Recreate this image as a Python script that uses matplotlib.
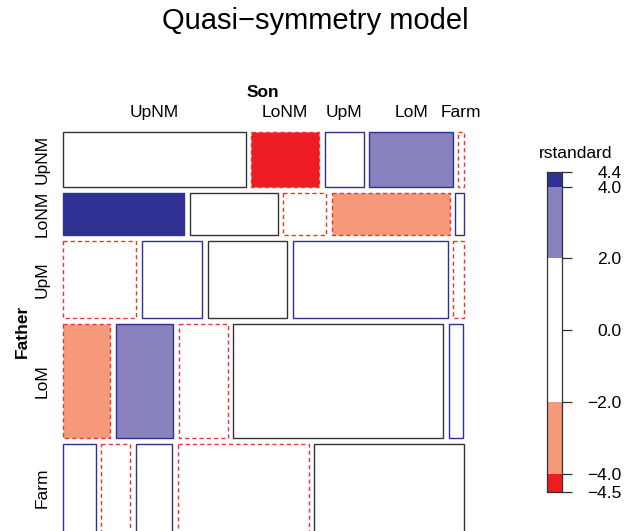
import numpy as np
import matplotlib.pyplot as plt
from matplotlib.patches import Rectangle
from matplotlib.transforms import blended_transform_factory

plt.rcParams['font.family'] = ['Liberation Sans', 'DejaVu Sans']

# Data: father's vs son's occupation (counts) and standardized residuals
levels = ['UpNM', 'LoNM', 'UpM', 'LoM', 'Farm']
counts = np.array([
    [1414, 521, 302, 643, 40],
    [724, 524, 254, 703, 48],
    [798, 648, 856, 1676, 108],
    [756, 914, 771, 3325, 237],
    [409, 357, 441, 1611, 1832],
])
resid = np.array([
    [0.0, -4.5, 1.5, 3.1, -1.0],
    [4.4, 0.0, -1.3, -2.9, 1.0],
    [-1.5, 1.3, 0.0, 0.8, -0.9],
    [-3.1, 2.9, -0.8, 0.0, 0.9],
    [1.0, -1.0, 0.9, -0.9, 0.0],
])
legend_breaks = [-4.5, -4.0, -2.0, 2.0, 4.0, 4.4]
legend_ticks = [-4.5, -4.0, -2.0, 0.0, 2.0, 4.0, 4.4]
legend_labels = ['\u22124.5', '\u22124.0', '\u22122.0', '0.0', '2.0', '4.0', '4.4']

# Colours
DARK_BLUE = '#2e3192'
LIGHT_BLUE = '#8781bd'
RED = '#ed1c24'
SALMON = '#f5997a'
EDGE_POS = '#2e3192'
EDGE_NEG = '#ee3333'
EDGE_ZERO = '#333333'


def fill_for(r):
    if r >= 4:
        return DARK_BLUE
    if r >= 2:
        return LIGHT_BLUE
    if r <= -4:
        return RED
    if r <= -2:
        return SALMON
    return 'white'


W, H = 624, 531
fig = plt.figure(figsize=(W / 100, H / 100), dpi=100)


def px(l, t, w, h):
    return [l / W, 1 - (t + h) / H, w / W, h / H]


ax = fig.add_axes(px(62.5, 131.7, 401, 400))
ax.set_xlim(0, 1)
ax.set_ylim(1, 0)
ax.axis('off')

gx = 5.65 / 401
gy = 5.65 / 400
row_tot = counts.sum(axis=1)
N = counts.sum()
top_tr = blended_transform_factory(ax.transData, ax.transAxes)
left_tr = blended_transform_factory(ax.transAxes, ax.transData)

y0 = 0.0
for i in range(len(levels)):
    h = row_tot[i] / N * (1 - 4 * gy)
    x0 = 0.0
    for j in range(len(levels)):
        w = counts[i, j] / row_tot[i] * (1 - 4 * gx)
        r = resid[i, j]
        if r > 0:
            ec, ls = EDGE_POS, '-'
        elif r < 0:
            ec, ls = EDGE_NEG, (0, (3, 2.2))
        else:
            ec, ls = EDGE_ZERO, '-'
        ax.add_patch(Rectangle((x0, y0), w, h, facecolor=fill_for(r),
                               edgecolor=ec, linestyle=ls, lw=1.0,
                               clip_on=False))
        if i == 0:
            ax.text(x0 + w / 2, 1.0355, levels[j], transform=top_tr,
                    ha='center', va='baseline', fontsize=12.5)
        x0 += w + gx
    ax.text(-0.0394, y0 + h / 2, levels[i], transform=left_tr,
            rotation=90, rotation_mode='anchor', ha='center', va='baseline',
            fontsize=12.5)
    y0 += h + gy

ax.text(0.5, 1.0875, 'Son', transform=ax.transAxes, ha='center',
        va='baseline', fontsize=12.5, fontweight='bold')
ax.text(-0.0885, 0.5, 'Father', transform=ax.transAxes, rotation=90,
        rotation_mode='anchor', ha='center', va='baseline',
        fontsize=12.5, fontweight='bold')

fig.text(315.5 / W, 1 - 29 / H, 'Quasi\u2212symmetry model', ha='center',
         va='baseline', fontsize=21)

# Legend
lax = fig.add_axes(px(546.7, 172.3, 15, 319.4))
seg_colors = [RED, SALMON, 'white', LIGHT_BLUE, DARK_BLUE]
lax.bar(0.5, np.diff(legend_breaks), bottom=legend_breaks[:-1], width=1,
        color=seg_colors, linewidth=0)
lax.set_xlim(0, 1)
lax.set_ylim(legend_breaks[0], legend_breaks[-1])
lax.set_xticks([])
lax.yaxis.tick_right()
lax.set_yticks(legend_ticks, legend_labels)
lax.tick_params(axis='y', length=7.2, width=0.9, color='#333333', pad=36,
                labelsize=12.5)
for t in lax.get_yticklabels():
    t.set_horizontalalignment('right')
for s in lax.spines.values():
    s.set_color('#333333')
    s.set_linewidth(0.9)

fig.text(576 / W, 1 - 158 / H, 'rstandard', ha='center', va='baseline',
         fontsize=12.5)

fig.savefig('out.png', dpi=100)
